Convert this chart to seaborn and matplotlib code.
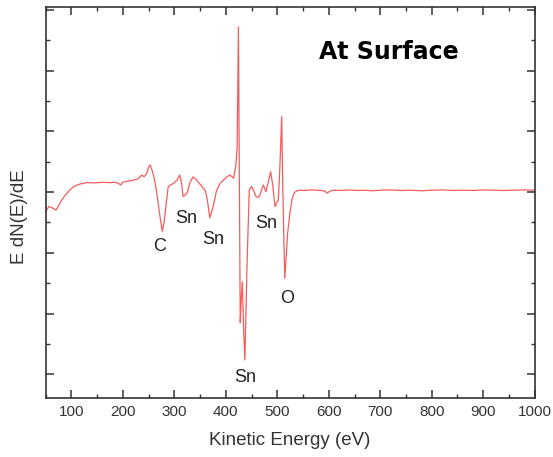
import numpy as np
import pandas as pd
import matplotlib
matplotlib.use("Agg")
import matplotlib.pyplot as plt
from matplotlib.ticker import MultipleLocator, NullFormatter
import seaborn as sns

# ---- data ----
energy = [50, 52, 56, 60, 65, 70, 74, 80, 86, 94, 104, 116, 130, 145, 160, 175, 185,
          191, 196, 200, 205, 214, 222, 228, 233, 237, 241, 246, 250, 253, 257, 261,
          266, 272, 276.5, 280, 284, 288, 293, 298, 305, 310.5, 314, 317, 321, 325,
          330, 336.5, 343, 350, 355, 360, 364, 369, 375, 382, 389, 396, 402, 408, 412,
          415, 419.5, 422, 424.4, 426, 428, 430, 432, 434.5, 437, 441, 445.5, 450, 454,
          458.5, 462, 466, 470, 473, 478, 482.5, 487, 491, 495.5, 499, 502, 505, 508.5,
          510.5, 512.5, 514.5, 517, 520, 524.5, 529, 533, 538, 545, 555, 565, 575, 585,
          592, 597, 602, 610, 625, 640, 655, 670, 685, 700, 720, 740, 760, 780, 800,
          820, 840, 860, 880, 900, 920, 940, 960, 980, 1000]
signal = [-0.65, -0.59, -0.48, -0.5, -0.54, -0.6, -0.48, -0.3, -0.15, 0.01, 0.18, 0.26,
          0.31, 0.30, 0.32, 0.31, 0.32, 0.29, 0.23, 0.32, 0.34, 0.37, 0.40, 0.42, 0.5,
          0.56, 0.5, 0.6, 0.82, 0.89, 0.7, 0.45, -0.05, -0.8, -1.3, -1.0, -0.4, 0.18,
          0.24, 0.28, 0.39, 0.56, 0.28, -0.15, -0.1, -0.02, 0.3, 0.5, 0.4, 0.25, 0.15,
          0.05, -0.26, -0.85, -0.5, 0.05, 0.29, 0.4, 0.5, 0.56, 0.5, 0.45, 0.89, 1.5,
          5.44, 1.0, -4.3, -3.5, -2.95, -4.5, -5.53, -2.5, 0.07, 0.18, 0.05, -0.15,
          -0.18, -0.12, 0.1, 0.23, 0.01, 0.34, 0.67, 0.25, -0.48, -0.35, -0.26, 0.83,
          2.48, 0.29, -1.4, -2.84, -2.2, -1.35, -0.7, -0.2, -0.02, 0.04, 0.06, 0.05,
          0.07, 0.06, 0.05, 0.03, -0.04, 0.03, 0.06, 0.05, 0.07, 0.05, 0.06, 0.04, 0.06,
          0.07, 0.05, 0.06, 0.04, 0.06, 0.07, 0.05, 0.06, 0.05, 0.07, 0.06, 0.05, 0.06,
          0.07, 0.06]

peak_labels = ["C", "Sn", "Sn", "Sn", "O", "Sn"]
peak_x = [272, 323.7, 375, 477.6, 518.8, 438]
peak_y = [-1.80, -0.86, -1.56, -1.03, -3.49, -6.12]

title_text = "At Surface"
x_label = "Kinetic Energy (eV)"
y_label = "E dN(E)/dE"

# ---- plot ----
sns.set_theme(style="ticks")
plt.rcParams["font.family"] = ["Liberation Sans", "DejaVu Sans"]

fig = plt.figure(figsize=(5.53, 4.57), dpi=100)
ax = fig.add_axes([0.0826, 0.1298, 0.8843, 0.8542])

df = pd.DataFrame({"energy": energy, "signal": signal})
sns.lineplot(data=df, x="energy", y="signal", estimator=None, sort=False,
             color="#f75c5c", linewidth=0.9, ax=ax)

ax.set_xlim(50, 1000)
ax.set_ylim(-6.77, 6.08)

ax.xaxis.set_major_locator(MultipleLocator(100))
ax.xaxis.set_minor_locator(MultipleLocator(50))
ax.yaxis.set_major_locator(MultipleLocator(2))
ax.yaxis.set_minor_locator(MultipleLocator(1))
ax.yaxis.set_major_formatter(NullFormatter())

ax.tick_params(which="both", direction="in", top=True, right=True,
               labeltop=False, labelright=False, color="#333333")
ax.tick_params(which="major", length=5.5, width=1.1)
ax.tick_params(which="minor", length=3, width=1.0)
ax.tick_params(axis="x", which="major", labelsize=11, labelcolor="#333333", pad=5)

for s in ax.spines.values():
    s.set_color("#333333")
    s.set_linewidth(1.2)

ax.set_xlabel(x_label, fontsize=13.5, color="#333333")
ax.set_ylabel(y_label, fontsize=13.5, color="#333333")
ax.xaxis.set_label_coords(0.5, -0.088)
ax.yaxis.set_label_coords(-0.036, 0.465)

for lab, xx, yy in zip(peak_labels, peak_x, peak_y):
    ax.text(xx, yy, lab, fontsize=13, color="#222222", ha="center", va="center")

ax.text(717, 4.6, title_text, fontsize=17, fontweight="bold", color="black",
        ha="center", va="center", family=["DejaVu Sans"])

fig.savefig("out.png", dpi=100)
